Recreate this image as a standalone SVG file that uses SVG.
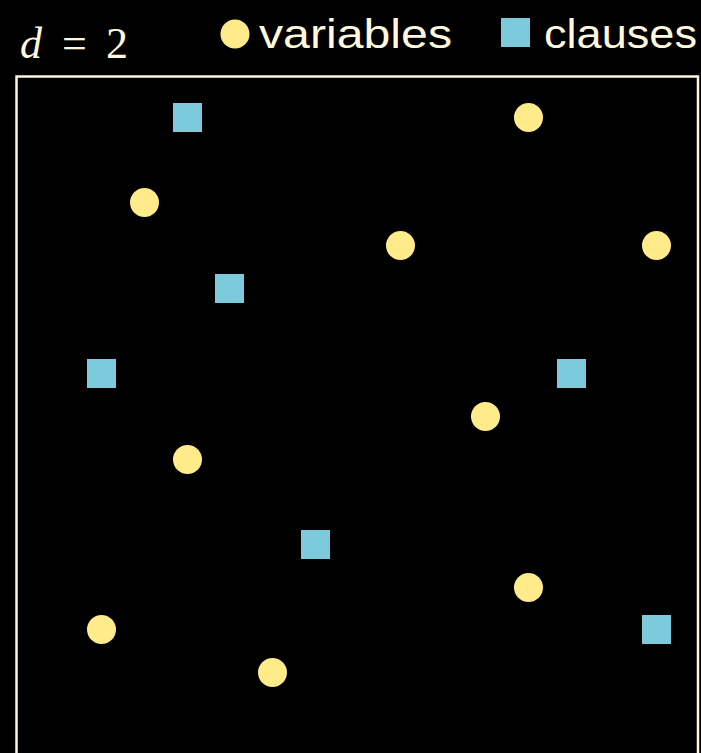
<svg xmlns="http://www.w3.org/2000/svg" width="701" height="753" viewBox="0 0 701 753">
<style>
.v{fill:#ffeb8a}
.c{fill:#7ecadd}
.t{fill:#fff8dc;font-family:"Liberation Sans",sans-serif;font-size:40px}
.m{fill:#fff8dc;font-family:"Liberation Serif",serif;font-size:44px}
</style>
<rect x="0" y="0" width="701" height="753" fill="#000"/>
<g id="legend">
<text class="m" y="58"><tspan x="20" font-style="italic">d</tspan><tspan x="62">=</tspan><tspan x="106">2</tspan></text>
<circle class="v" cx="235" cy="34" r="14.5"/>
<text class="t" x="259" y="48" textLength="193" lengthAdjust="spacingAndGlyphs">variables</text>
<rect class="c" x="501" y="18" width="29" height="29"/>
<text class="t" x="544" y="48" textLength="153" lengthAdjust="spacingAndGlyphs">clauses</text>
</g>
<rect id="frame" x="16.5" y="76.5" width="681.5" height="700" fill="none" stroke="#fff8dc" stroke-width="2.5"/>
<g id="clauses">
<rect id="c1" class="c" x="173" y="103" width="29" height="29"/>
<rect id="c2" class="c" x="215" y="274" width="29" height="29"/>
<rect id="c3" class="c" x="87" y="359" width="29" height="29"/>
<rect id="c4" class="c" x="557" y="359" width="29" height="29"/>
<rect id="c5" class="c" x="301" y="530" width="29" height="29"/>
<rect id="c6" class="c" x="642" y="615" width="29" height="29"/>
</g>
<g id="variables">
<circle id="v1" class="v" cx="528.5" cy="117.5" r="14.5"/>
<circle id="v2" class="v" cx="144.5" cy="202.5" r="14.5"/>
<circle id="v3" class="v" cx="400.5" cy="245.5" r="14.5"/>
<circle id="v4" class="v" cx="656.5" cy="245.5" r="14.5"/>
<circle id="v5" class="v" cx="485.5" cy="416.5" r="14.5"/>
<circle id="v6" class="v" cx="187.5" cy="459.5" r="14.5"/>
<circle id="v7" class="v" cx="528.5" cy="587.5" r="14.5"/>
<circle id="v8" class="v" cx="101.5" cy="629.5" r="14.5"/>
<circle id="v9" class="v" cx="272.5" cy="672.5" r="14.5"/>
</g>
<g id="connectors"/>
</svg>
